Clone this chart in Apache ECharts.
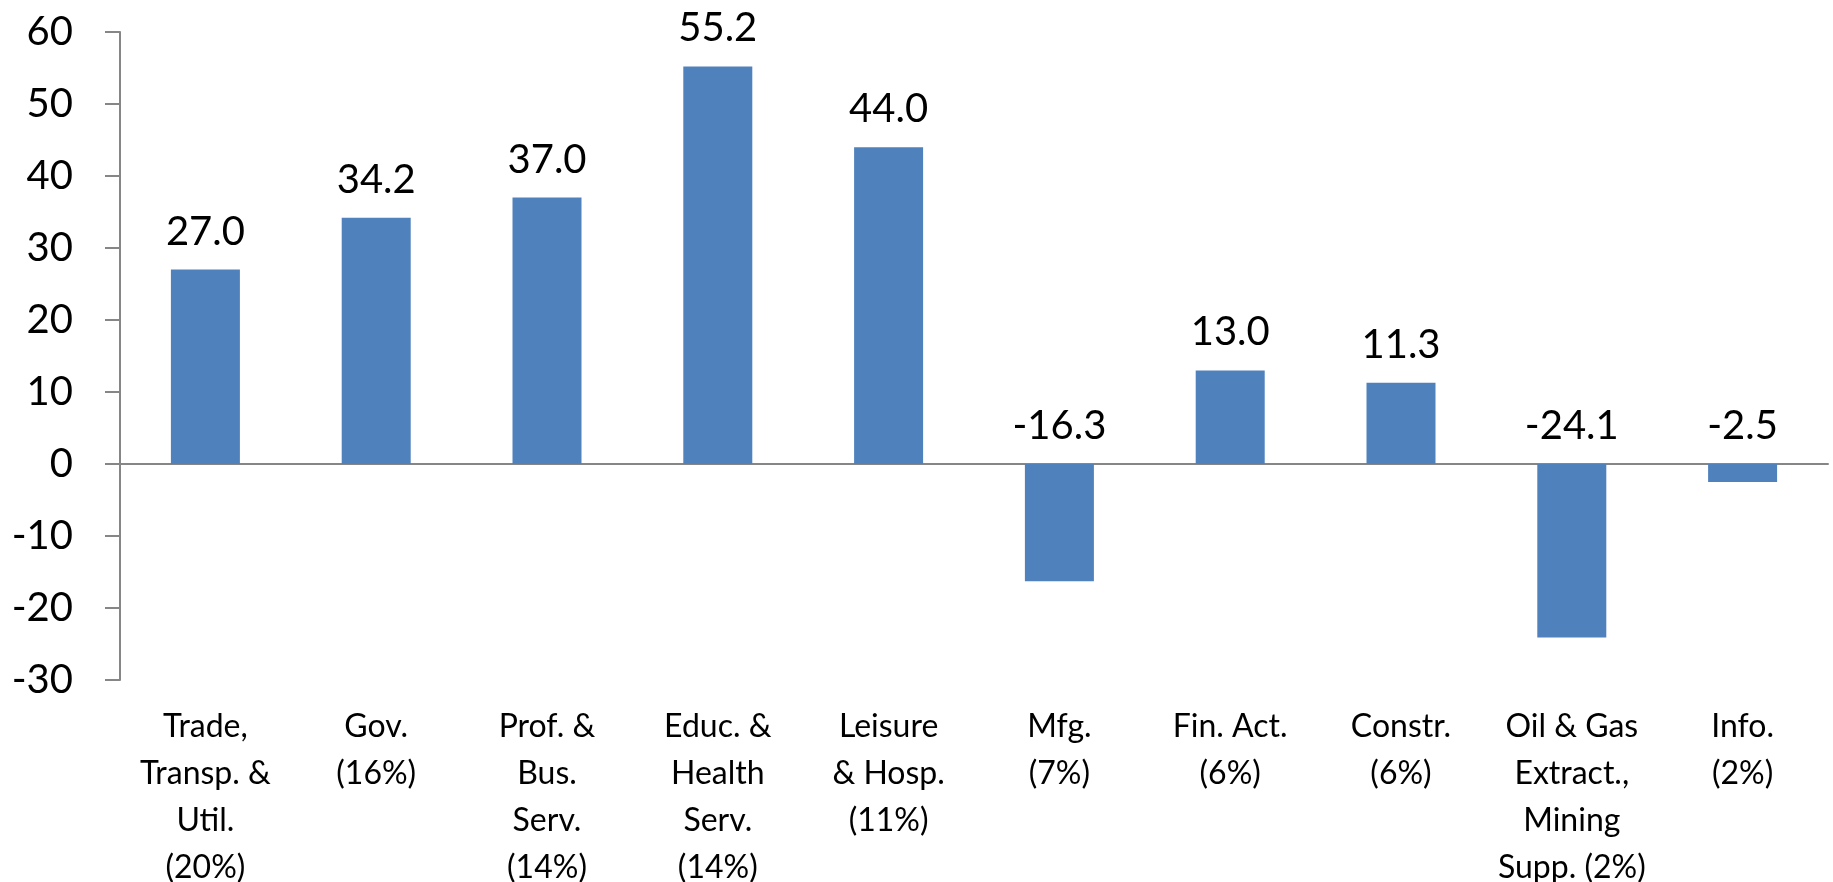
<!DOCTYPE html>
<html>
<head>
<meta charset="utf-8">
<script src="https://cdn.jsdelivr.net/npm/echarts@6/dist/echarts.min.js"></script>
<style>
  html, body { margin: 0; padding: 0; background: #fff; }
  #chart { width: 1833px; height: 882px; }
</style>
</head>
<body>
<div id="chart"></div>
<script>
const categories = [
  "Trade,\nTransp. &\nUtil.\n(20%)",
  "Gov.\n(16%)",
  "Prof. &\nBus.\nServ.\n(14%)",
  "Educ. &\nHealth\nServ.\n(14%)",
  "Leisure\n& Hosp.\n(11%)",
  "Mfg.\n(7%)",
  "Fin. Act.\n(6%)",
  "Constr.\n(6%)",
  "Oil & Gas\nExtract.,\nMining\nSupp. (2%)",
  "Info.\n(2%)"
];
const values = [27.0, 34.2, 37.0, 55.2, 44.0, -16.3, 13.0, 11.3, -24.1, -2.5];
const yMin = -30;
const yMax = 60;
const yStep = 10;

const chart = echarts.init(document.getElementById("chart"));
const axisColor = "#868686";
const font = "Lato, 'Open Sans', sans-serif";

chart.setOption({
  animation: false,
  grid: { left: 120, right: 5, top: 32, bottom: 202, outerBoundsMode: "none", containLabel: false },
  xAxis: [
    {
      type: "category",
      data: categories,
      axisLine: { show: false, onZero: false },
      axisTick: { show: false },
      axisLabel: {
        interval: 0,
        margin: 23,
        fontFamily: font,
        fontSize: 32,
        lineHeight: 47,
        color: "#000",
        align: "center",
        verticalAlign: "top"
      }
    },
    {
      type: "category",
      data: categories,
      position: "top",
      axisLine: { show: true, onZero: true, lineStyle: { color: axisColor, width: 2 } },
      axisTick: { show: false },
      axisLabel: { show: false }
    }
  ],
  yAxis: {
    type: "value",
    min: yMin,
    max: yMax,
    interval: yStep,
    splitLine: { show: false },
    axisLine: { show: true, lineStyle: { color: axisColor, width: 2 } },
    axisTick: { show: true, length: 15, lineStyle: { color: axisColor, width: 2 } },
    axisLabel: {
      margin: 47,
      fontFamily: font,
      fontSize: 40,
      color: "#000"
    }
  },
  series: [
    {
      type: "bar",
      data: values,
      barWidth: 69,
      itemStyle: { color: "#4F81BD" },
      label: {
        show: true,
        position: "top",
        distance: 18,
        fontFamily: font,
        fontSize: 40,
        color: "#000",
        formatter: (p) => p.value.toFixed(1)
      }
    }
  ]
});
</script>
</body>
</html>
